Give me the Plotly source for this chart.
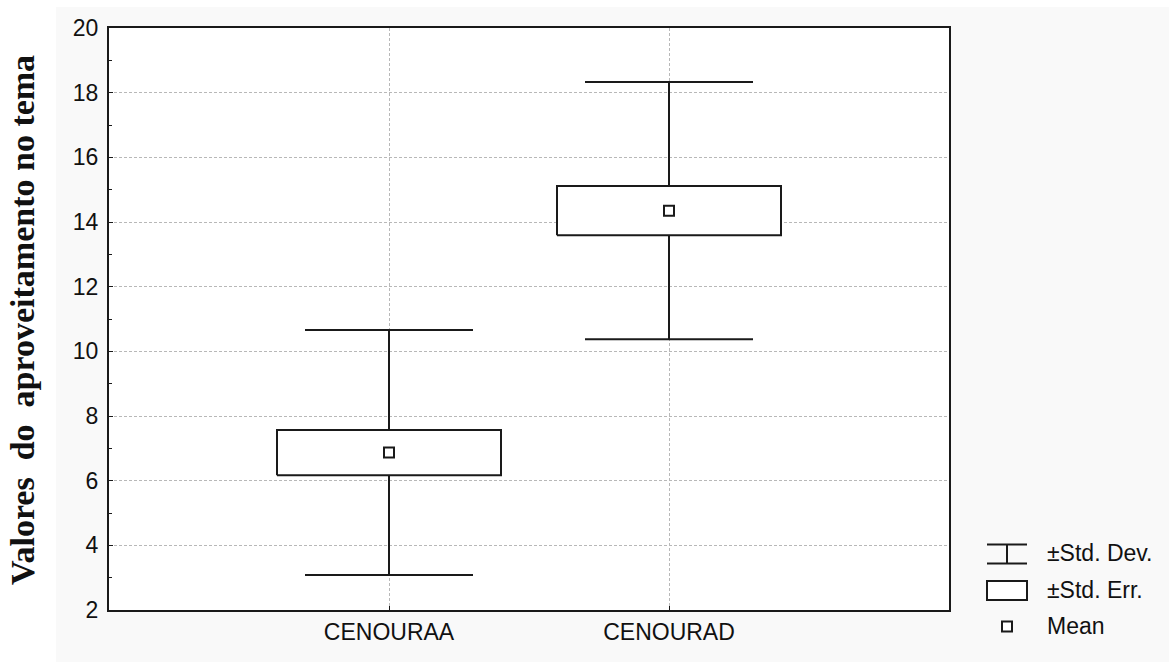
import plotly.graph_objects as go

# Group statistics for the two tests
categories = ["CENOURAA", "CENOURAD"]
means = [6.87, 14.35]
std_errs = [0.70, 0.76]
std_devs = [3.79, 3.98]

y_ticks = [2, 4, 6, 8, 10, 12, 14, 16, 18, 20]
legend_labels = ["±Std. Dev.", "±Std. Err.", "Mean"]

W, H = 1169, 662
L, R, T, B = 109, 220, 28, 52
PW, PH = W - L - R, H - T - B

LINE = "#1a1a1a"
BOX_HALF = 0.40
CAP_HALF = 0.30


def px_x(p):
    return (p - L) / PW


def px_y(p):
    return (H - B - p) / PH


fig = go.Figure()

xs = list(range(len(categories)))

# whisker stems and caps (mean ± SD)
for i, m, se, sd in zip(xs, means, std_errs, std_devs):
    fig.add_trace(go.Scatter(
        x=[i, i, None, i, i, None, i - CAP_HALF, i + CAP_HALF, None, i - CAP_HALF, i + CAP_HALF],
        y=[m + se, m + sd, None, m - se, m - sd, None, m + sd, m + sd, None, m - sd, m - sd],
        mode="lines", line=dict(color=LINE, width=2), showlegend=False, hoverinfo="skip"))

# boxes (mean ± SE)
for i, m, se in zip(xs, means, std_errs):
    fig.add_trace(go.Scatter(
        x=[i - BOX_HALF, i + BOX_HALF, i + BOX_HALF, i - BOX_HALF, i - BOX_HALF],
        y=[m - se, m - se, m + se, m + se, m - se],
        mode="lines", fill="toself", fillcolor="white",
        line=dict(color=LINE, width=2), showlegend=False, hoverinfo="skip"))

# mean markers
fig.add_trace(go.Scatter(
    x=xs, y=means, mode="markers",
    marker=dict(symbol="square", size=10, color="white", line=dict(color=LINE, width=2)),
    showlegend=False, hoverinfo="skip"))

shapes = []
# grey panel behind the chart, white plotting area on top of it
shapes.append(dict(type="rect", xref="paper", yref="paper", layer="below",
                   x0=px_x(56), x1=px_x(W + 5), y0=px_y(H + 5), y1=px_y(7),
                   fillcolor="#f9f9f9", line=dict(width=0)))
shapes.append(dict(type="rect", xref="paper", yref="paper", layer="below",
                   x0=0, x1=1, y0=0, y1=1, fillcolor="white", line=dict(width=0)))

# legend symbols
lx0, lx1 = 987, 1027
# std dev symbol
shapes += [
    dict(type="line", xref="paper", yref="paper", x0=px_x(lx0), x1=px_x(lx1),
         y0=px_y(544.5), y1=px_y(544.5), line=dict(color=LINE, width=2)),
    dict(type="line", xref="paper", yref="paper", x0=px_x(lx0), x1=px_x(lx1),
         y0=px_y(563.5), y1=px_y(563.5), line=dict(color=LINE, width=2)),
    dict(type="line", xref="paper", yref="paper", x0=px_x(1007), x1=px_x(1007),
         y0=px_y(544.5), y1=px_y(563.5), line=dict(color=LINE, width=2)),
]
# std err symbol
shapes.append(dict(type="rect", xref="paper", yref="paper", x0=px_x(lx0), x1=px_x(lx1),
                   y0=px_y(600), y1=px_y(581), fillcolor="white", line=dict(color=LINE, width=2)))
# mean symbol
shapes.append(dict(type="rect", xref="paper", yref="paper", x0=px_x(1002), x1=px_x(1012),
                   y0=px_y(631.5), y1=px_y(621.5), fillcolor="white", line=dict(color=LINE, width=2)))

annotations = []
for label, yc in zip(legend_labels, [553, 590, 626.5]):
    annotations.append(dict(text=label, xref="paper", yref="paper", x=px_x(1045), y=px_y(yc),
                            xanchor="left", yanchor="middle", showarrow=False,
                            font=dict(family="Liberation Sans, Arial", size=23, color="#111")))

annotations.append(dict(
    text="<b>Valores\u00a0\u00a0do\u00a0\u00a0aproveitamento no tema</b>",
    xref="paper", yref="paper", x=px_x(22), y=px_y(320), textangle=-90,
    xanchor="center", yanchor="middle", showarrow=False,
    font=dict(family="Liberation Serif, Times New Roman", size=34, color="#111")))

axis_font = dict(family="Liberation Sans, Arial", size=23, color="#111")

fig.update_layout(
    width=W, height=H,
    margin=dict(l=L, r=R, t=T, b=B, pad=0),
    paper_bgcolor="white", plot_bgcolor="rgba(0,0,0,0)",
    showlegend=False,
    shapes=shapes, annotations=annotations,
    xaxis=dict(range=[-1, 2], tickmode="array", tickvals=xs, ticktext=categories,
               showline=True, mirror=True, linecolor=LINE, linewidth=2,
               ticks="inside", ticklen=4, tickcolor=LINE,
               showgrid=True, gridcolor="#b8b8b8", gridwidth=1, griddash="3px,2px",
               zeroline=False, tickfont=axis_font, fixedrange=True),
    yaxis=dict(range=[2, 20], tickmode="array", tickvals=y_ticks,
               showline=True, mirror=True, linecolor=LINE, linewidth=2,
               ticks="inside", ticklen=4, tickcolor=LINE, ticklabelstandoff=4,
               minor=dict(tickmode="array", tickvals=[3, 5, 7, 9, 11, 13, 15, 17, 19],
                          ticks="inside", ticklen=3, tickcolor=LINE, showgrid=False),
               showgrid=True, gridcolor="#b8b8b8", gridwidth=1, griddash="3px,2px",
               zeroline=False, tickfont=axis_font, fixedrange=True),
)

fig.write_html("out.html")
